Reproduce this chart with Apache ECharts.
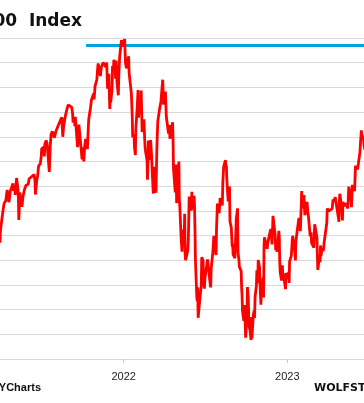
<!DOCTYPE html>
<html>
<head>
<meta charset="utf-8">
<script src="https://cdn.jsdelivr.net/npm/echarts@6/dist/echarts.min.js"></script>
<style>
html,body{margin:0;padding:0;background:#fff;}
#c{width:364px;height:403px;}
</style>
</head>
<body>
<div id="c"></div>
<script>
// ---- data (S&P 500 closes) ----
const dates2021 = ['2021-03-26','2021-03-31','2021-04-01','2021-04-05','2021-04-07','2021-04-09','2021-04-13','2021-04-15','2021-04-16','2021-04-20','2021-04-22','2021-04-23','2021-04-26','2021-04-29','2021-04-30','2021-05-03','2021-05-04','2021-05-07','2021-05-10','2021-05-11','2021-05-12','2021-05-13','2021-05-14','2021-05-18','2021-05-19','2021-05-21','2021-05-25','2021-05-28','2021-06-02','2021-06-04','2021-06-08','2021-06-10','2021-06-11','2021-06-15','2021-06-17','2021-06-18','2021-06-21','2021-06-23','2021-06-25','2021-06-29','2021-07-01','2021-07-02','2021-07-07','2021-07-08','2021-07-09','2021-07-12','2021-07-14','2021-07-16','2021-07-19','2021-07-21','2021-07-23','2021-07-26','2021-07-27','2021-07-29','2021-07-30','2021-08-03','2021-08-06','2021-08-10','2021-08-13','2021-08-16','2021-08-18','2021-08-19','2021-08-20','2021-08-24','2021-08-27','2021-08-30','2021-09-02','2021-09-07','2021-09-09','2021-09-10','2021-09-13','2021-09-14','2021-09-15','2021-09-17','2021-09-20','2021-09-22','2021-09-23','2021-09-27','2021-09-28','2021-09-30','2021-10-01','2021-10-04','2021-10-06','2021-10-08','2021-10-12','2021-10-14','2021-10-15','2021-10-19','2021-10-21','2021-10-22','2021-10-26','2021-10-27','2021-10-29','2021-11-02','2021-11-04','2021-11-05','2021-11-08','2021-11-10','2021-11-12','2021-11-16','2021-11-18','2021-11-19','2021-11-22','2021-11-24','2021-11-26','2021-11-29','2021-11-30','2021-12-01','2021-12-02','2021-12-03','2021-12-06','2021-12-07','2021-12-09','2021-12-10','2021-12-13','2021-12-14','2021-12-15','2021-12-16','2021-12-17','2021-12-20','2021-12-21','2021-12-23','2021-12-27','2021-12-29','2021-12-31'];
const close2021 = [3975,3973,4020,4078,4080,4129,4142,4171,4185,4135,4135,4180,4188,4211,4181,4192,4165,4233,4189,4152,4063,4113,4174,4127,4116,4156,4189,4204,4208,4230,4227,4239,4247,4247,4222,4166,4224,4242,4281,4291,4320,4352,4358,4320,4370,4385,4374,4327,4258,4359,4411,4422,4402,4419,4395,4423,4437,4436,4468,4479,4400,4406,4442,4486,4509,4529,4537,4520,4493,4458,4469,4443,4481,4433,4358,4395,4449,4443,4352,4308,4357,4300,4363,4391,4350,4438,4471,4519,4549,4545,4575,4551,4605,4630,4680,4697,4701,4646,4682,4701,4705,4698,4682,4701,4595,4655,4567,4513,4577,4538,4592,4686,4668,4712,4669,4635,4709,4669,4620,4568,4649,4726,4791,4793,4766];

const dates2022 = ['2022-01-03','2022-01-04','2022-01-05','2022-01-07','2022-01-10','2022-01-12','2022-01-13','2022-01-14','2022-01-18','2022-01-19','2022-01-20','2022-01-21','2022-01-24','2022-01-25','2022-01-27','2022-01-28','2022-01-31','2022-02-02','2022-02-03','2022-02-04','2022-02-08','2022-02-09','2022-02-10','2022-02-11','2022-02-15','2022-02-16','2022-02-17','2022-02-18','2022-02-22','2022-02-23','2022-02-24','2022-02-25','2022-03-01','2022-03-02','2022-03-04','2022-03-07','2022-03-08','2022-03-09','2022-03-11','2022-03-14','2022-03-16','2022-03-18','2022-03-22','2022-03-25','2022-03-29','2022-03-31','2022-04-01','2022-04-04','2022-04-06','2022-04-08','2022-04-11','2022-04-13','2022-04-14','2022-04-18','2022-04-20','2022-04-21','2022-04-22','2022-04-26','2022-04-27','2022-04-28','2022-04-29','2022-05-02','2022-05-04','2022-05-05','2022-05-06','2022-05-09','2022-05-11','2022-05-12','2022-05-13','2022-05-16','2022-05-17','2022-05-18','2022-05-19','2022-05-20','2022-05-24','2022-05-25','2022-05-26','2022-05-27','2022-05-31','2022-06-01','2022-06-02','2022-06-03','2022-06-07','2022-06-08','2022-06-09','2022-06-10','2022-06-13','2022-06-14','2022-06-15','2022-06-16','2022-06-17','2022-06-21','2022-06-23','2022-06-24','2022-06-27','2022-06-28','2022-06-30','2022-07-01','2022-07-05','2022-07-07','2022-07-08','2022-07-12','2022-07-13','2022-07-14','2022-07-15','2022-07-19','2022-07-21','2022-07-22','2022-07-26','2022-07-27','2022-07-29','2022-08-02','2022-08-04','2022-08-05','2022-08-09','2022-08-10','2022-08-12','2022-08-16','2022-08-17','2022-08-18','2022-08-19','2022-08-22','2022-08-24','2022-08-25','2022-08-26','2022-08-29','2022-08-31','2022-09-01','2022-09-02','2022-09-06','2022-09-08','2022-09-09','2022-09-12','2022-09-13','2022-09-15','2022-09-16','2022-09-20','2022-09-21','2022-09-22','2022-09-23','2022-09-26','2022-09-27','2022-09-28','2022-09-29','2022-09-30','2022-10-03','2022-10-04','2022-10-05','2022-10-06','2022-10-07','2022-10-10','2022-10-12','2022-10-13','2022-10-14','2022-10-17','2022-10-19','2022-10-20','2022-10-21','2022-10-24','2022-10-25','2022-10-27','2022-10-28','2022-10-31','2022-11-02','2022-11-03','2022-11-04','2022-11-08','2022-11-09','2022-11-10','2022-11-11','2022-11-15','2022-11-17','2022-11-18','2022-11-22','2022-11-25','2022-11-28','2022-11-30','2022-12-01','2022-12-02','2022-12-05','2022-12-06','2022-12-08','2022-12-09','2022-12-12','2022-12-13','2022-12-14','2022-12-15','2022-12-16','2022-12-19','2022-12-21','2022-12-22','2022-12-23','2022-12-28','2022-12-29','2022-12-30'];
const close2022 = [4796,4793,4700,4677,4670,4726,4659,4663,4577,4533,4483,4398,4410,4357,4326,4432,4516,4589,4477,4500,4521,4587,4504,4419,4471,4475,4380,4349,4305,4226,4288,4385,4306,4387,4329,4201,4170,4278,4204,4173,4358,4463,4512,4543,4631,4530,4545,4583,4481,4488,4413,4447,4392,4391,4459,4394,4272,4175,4183,4288,4132,4155,4300,4147,4123,3991,3935,3930,4023,4008,4088,3923,3900,3901,3941,3979,4058,4158,4132,4101,4177,4109,4161,4116,4018,3901,3750,3735,3790,3667,3675,3765,3796,3912,3900,3821,3785,3825,3831,3903,3899,3819,3802,3790,3863,3937,3999,3962,3921,4024,4130,4091,4152,4145,4122,4210,4280,4305,4274,4284,4228,4138,4141,4199,4058,4031,3955,3967,3924,3908,4006,4067,4110,3932,3901,3873,3856,3790,3758,3693,3655,3647,3719,3640,3586,3678,3791,3783,3745,3640,3612,3577,3670,3583,3678,3695,3666,3752,3797,3859,3807,3901,3872,3760,3720,3771,3828,3749,3956,3993,3992,3946,3965,4003,4026,3964,4080,4076,4072,3999,3941,3963,3934,3990,4019,3996,3896,3852,3818,3879,3822,3845,3783,3849,3840];

const dates2023 = ['2023-01-03','2023-01-04','2023-01-05','2023-01-06','2023-01-10','2023-01-12','2023-01-13','2023-01-18','2023-01-19','2023-01-20','2023-01-23','2023-01-26','2023-01-27','2023-01-30','2023-02-01','2023-02-02','2023-02-03','2023-02-06','2023-02-07','2023-02-09','2023-02-10','2023-02-14','2023-02-16','2023-02-17','2023-02-21','2023-02-23','2023-02-24','2023-02-28','2023-03-01','2023-03-03','2023-03-06','2023-03-08','2023-03-09','2023-03-10','2023-03-13','2023-03-14','2023-03-15','2023-03-16','2023-03-17','2023-03-20','2023-03-22','2023-03-23','2023-03-24','2023-03-28','2023-03-30','2023-03-31','2023-04-04','2023-04-06','2023-04-11','2023-04-13','2023-04-14','2023-04-18','2023-04-20','2023-04-21','2023-04-25','2023-04-26','2023-04-27','2023-04-28','2023-05-02','2023-05-04','2023-05-05','2023-05-09','2023-05-11','2023-05-12','2023-05-16','2023-05-18','2023-05-19','2023-05-23','2023-05-24','2023-05-26','2023-05-30','2023-05-31','2023-06-02','2023-06-06','2023-06-07','2023-06-09','2023-06-12','2023-06-13','2023-06-15','2023-06-16','2023-06-20','2023-06-21','2023-06-23','2023-06-27','2023-06-30'];
const close2023 = [3825,3853,3808,3895,3919,3983,3999,3929,3899,3973,4020,4060,4071,4018,4120,4180,4136,4111,4164,4082,4090,4136,4090,4079,3997,4013,3970,3970,3951,4046,4048,3992,3918,3861,3855,3920,3892,3960,3917,3951,3937,3949,3971,3971,4051,4109,4100,4105,4109,4146,4137,4155,4130,4134,4071,4056,4136,4169,4119,4061,4136,4119,4131,4124,4110,4198,4192,4146,4115,4205,4206,4180,4282,4283,4268,4299,4338,4369,4426,4410,4389,4366,4348,4378,4450];

// horizontal reference line (blue)
const refDates = ['2021-10-09','2023-07-31'];
const refLevel = 4770;

const yearTicks = ['2022-01-01','2023-01-01'];
const xMin = '2021-03-31';
const xMax = '2023-06-21';
const yMin = 3500, yMax = 4800, yStep = 100;

// ---- build ----
const toTs = s => { const p = s.split('-').map(Number); return new Date(p[0], p[1]-1, p[2]).getTime(); };
const allDates = dates2021.concat(dates2022, dates2023);
const allClose = close2021.concat(close2022, close2023);
const lineData = allDates.map((d, i) => [toTs(d), allClose[i]]);
const refData = refDates.map(d => [toTs(d), refLevel]);
const tickTs = yearTicks.map(toTs);

const chart = echarts.init(document.getElementById('c'), null, {renderer: 'canvas'});
chart.setOption({
  animation: false,
  backgroundColor: '#fff',
  grid: {left: 0, right: 0, top: 38, bottom: 44, containLabel: false},
  xAxis: {
    type: 'value',
    min: toTs(xMin),
    max: toTs(xMax),
    axisLine: {show: true, lineStyle: {color: '#d9d9d9', width: 1}},
    axisTick: {show: true, customValues: tickTs, length: 4, lineStyle: {color: '#c8c8c8'}},
    axisLabel: {
      show: true, customValues: tickTs, margin: 12,
      fontFamily: 'Liberation Sans', fontSize: 11, color: '#222',
      formatter: v => String(new Date(v).getFullYear())
    },
    splitLine: {show: false}
  },
  yAxis: {
    type: 'value',
    min: yMin, max: yMax, interval: yStep,
    axisLine: {show: false},
    axisTick: {show: false},
    axisLabel: {show: false},
    splitLine: {show: true, lineStyle: {color: '#d9d9d9', width: 1}}
  },
  series: [
    {
      type: 'line', data: refData, symbol: 'none', silent: true,
      lineStyle: {color: '#00a2e3', width: 3}, z: 2
    },
    {
      type: 'line', data: lineData, symbol: 'none', clip: true,
      lineStyle: {color: '#ff0000', width: 2.8}, z: 3
    }
  ],
  graphic: [
    {type: 'text', x: 82, y: 22, style: {text: 'S&P 500  Index', textAlign: 'right', textVerticalAlign: 'middle', font: 'bold 17px "DejaVu Sans"', fill: '#111'}},
    {type: 'text', x: 41, y: 388, style: {text: 'YCharts', textAlign: 'right', textVerticalAlign: 'middle', font: 'bold 11px "Liberation Sans"', fill: '#111'}},
    {type: 'text', x: 314, y: 388, style: {text: 'WOLFSTREET.com', textAlign: 'left', textVerticalAlign: 'middle', font: 'bold 11px "DejaVu Sans"', fill: '#111'}}
  ]
});
</script>
</body>
</html>
